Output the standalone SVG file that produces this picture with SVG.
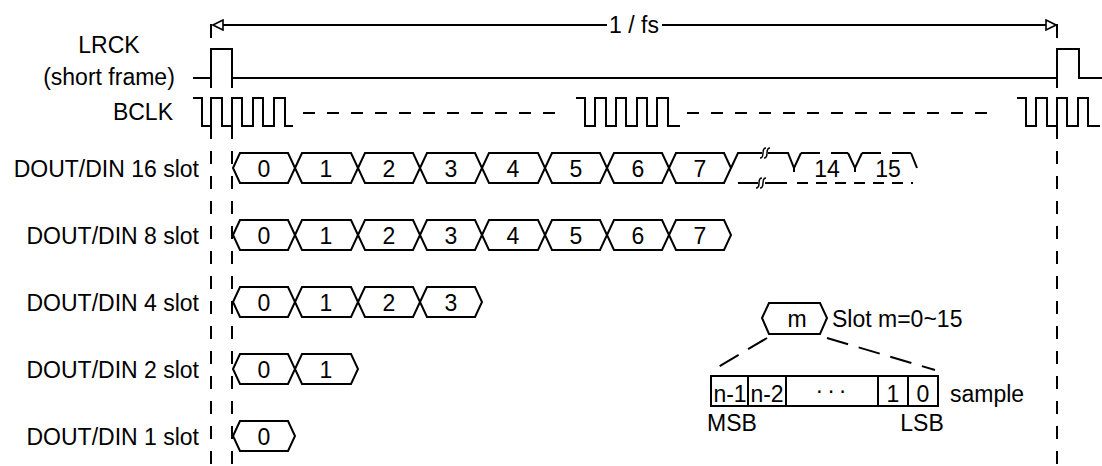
<svg xmlns="http://www.w3.org/2000/svg" width="1102" height="466" viewBox="0 0 1102 466">
<style>
text{font-family:"Liberation Sans",Arial,sans-serif;font-size:23px;fill:#000}
.m{text-anchor:middle}
.e{text-anchor:end}
.w{fill:none;stroke:#000;stroke-width:2}
.slot{fill:#fff;stroke:#000;stroke-width:2;stroke-linejoin:miter}
.vd{fill:none;stroke:#000;stroke-width:2;stroke-dasharray:13 12}
.bd{fill:none;stroke:#000;stroke-width:2;stroke-dasharray:12 12}
.brk{fill:none;stroke:#000;stroke-width:1.5}
</style>
<defs>
<marker id="oa" viewBox="0 0 12 12" refX="11" refY="6" markerWidth="12" markerHeight="12" markerUnits="userSpaceOnUse" orient="auto">
<path d="M1,1 L11,6 L1,11 z" fill="#fff" stroke="#000" stroke-width="1.6"/>
</marker>
</defs>

<g id="connectors">
<!-- 1/fs arrow -->
<line class="w" x1="607" y1="25" x2="213" y2="25" marker-end="url(#oa)"/>
<line class="w" x1="662" y1="25" x2="1056" y2="25" marker-end="url(#oa)"/>
<path class="w" d="M211,24 V38 M1057,24 V38"/>
<!-- vertical dashed guides -->
<path class="w" d="M211,78 V88 M232,78 V88 M1057,78 V88"/>
<path class="vd" d="M211,126 V466 M232,126 V466 M1057,126 V466"/>
</g>
<text class="m" x="634" y="33">1 / fs</text>

<g id="lrck">
<text class="m" x="109" y="53">LRCK</text>
<text class="m" x="109" y="85">(short frame)</text>
<path class="w" d="M193,78 H211 V49 H232 V78 H1057 V49 H1079 V78 H1102"/>
</g>

<g id="bclk">
<text class="e" x="173" y="120">BCLK</text>
<path class="w" d="M193,98 H202 V126 H211 V98 H222 V126 H232 V98 H242 V126 H253 V98 H263 V126 H274 V98 H285 V126 H293"/>
<path class="bd" d="M303,113 H557"/>
<path class="w" d="M576,98 H585 V126 H595 V98 H606 V126 H616 V98 H626 V126 H637 V98 H647 V126 H657 V98 H668 V126 H680"/>
<path class="bd" d="M687,113 H988"/>
<path class="w" d="M1017,98 H1026 V126 H1036 V98 H1047 V126 H1057 V98 H1067 V126 H1078 V98 H1088 V126 H1100"/>
</g>

<g id="row16">
<text class="e" x="199" y="177">DOUT/DIN 16 slot</text>
<g transform="translate(0,168)">
<polygon class="slot" points="233,0 240,-15 288,-15 295,0 288,15 240,15"/>
<polygon class="slot" points="295,0 302,-15 351,-15 358,0 351,15 302,15"/>
<polygon class="slot" points="358,0 365,-15 413,-15 420,0 413,15 365,15"/>
<polygon class="slot" points="420,0 427,-15 475,-15 482,0 475,15 427,15"/>
<polygon class="slot" points="482,0 489,-15 538,-15 545,0 538,15 489,15"/>
<polygon class="slot" points="545,0 552,-15 600,-15 607,0 600,15 552,15"/>
<polygon class="slot" points="607,0 614,-15 662,-15 669,0 662,15 614,15"/>
<polygon class="slot" points="669,0 676,-15 724,-15 731,0 724,15 676,15"/>
<text class="m" x="264" y="9">0</text><text class="m" x="326" y="9">1</text><text class="m" x="389" y="9">2</text><text class="m" x="451" y="9">3</text>
<text class="m" x="513" y="9">4</text><text class="m" x="576" y="9">5</text><text class="m" x="638" y="9">6</text><text class="m" x="700" y="9">7</text>
<path class="w" d="M731,0 L738,-15 H762 M768,-15 H788 L794,0 L801,-15 M794,0 V4 M738,15 H758 M765,15 H787"/>
<path class="brk" d="M760,-10 Q763,-10 763,-15 Q763,-20 766,-20 M764,-10 Q767,-10 767,-15 Q767,-20 770,-20"/>
<path class="brk" d="M756,20 Q759,20 759,15 Q759,10 762,10 M760,20 Q763,20 763,15 Q763,10 766,10"/>
<path class="w" d="M848,-15 L855,0 L862,-15 M855,0 V4 M911,-15 L917,0"/>
<path class="w" stroke-dasharray="19 11" d="M801,-15 H848 M862,-15 H911"/>
<path class="w" stroke-dasharray="11 8" d="M797,15 H913"/>
<text class="m" x="827" y="9">14</text><text class="m" x="888" y="9">15</text>
</g>
</g>

<g id="row8">
<text class="e" x="199" y="244">DOUT/DIN 8 slot</text>
<g transform="translate(0,235)">
<polygon class="slot" points="233,0 240,-15 288,-15 295,0 288,15 240,15"/>
<polygon class="slot" points="295,0 302,-15 351,-15 358,0 351,15 302,15"/>
<polygon class="slot" points="358,0 365,-15 413,-15 420,0 413,15 365,15"/>
<polygon class="slot" points="420,0 427,-15 475,-15 482,0 475,15 427,15"/>
<polygon class="slot" points="482,0 489,-15 538,-15 545,0 538,15 489,15"/>
<polygon class="slot" points="545,0 552,-15 600,-15 607,0 600,15 552,15"/>
<polygon class="slot" points="607,0 614,-15 662,-15 669,0 662,15 614,15"/>
<polygon class="slot" points="669,0 676,-15 724,-15 731,0 724,15 676,15"/>
<text class="m" x="264" y="9">0</text><text class="m" x="326" y="9">1</text><text class="m" x="389" y="9">2</text><text class="m" x="451" y="9">3</text>
<text class="m" x="513" y="9">4</text><text class="m" x="576" y="9">5</text><text class="m" x="638" y="9">6</text><text class="m" x="700" y="9">7</text>
</g>
</g>

<g id="row4">
<text class="e" x="199" y="311">DOUT/DIN 4 slot</text>
<g transform="translate(0,302)">
<polygon class="slot" points="233,0 240,-15 288,-15 295,0 288,15 240,15"/>
<polygon class="slot" points="295,0 302,-15 351,-15 358,0 351,15 302,15"/>
<polygon class="slot" points="358,0 365,-15 413,-15 420,0 413,15 365,15"/>
<polygon class="slot" points="420,0 427,-15 475,-15 482,0 475,15 427,15"/>
<text class="m" x="264" y="9">0</text><text class="m" x="326" y="9">1</text><text class="m" x="389" y="9">2</text><text class="m" x="451" y="9">3</text>
</g>
</g>

<g id="row2">
<text class="e" x="199" y="378">DOUT/DIN 2 slot</text>
<g transform="translate(0,369)">
<polygon class="slot" points="233,0 240,-15 288,-15 295,0 288,15 240,15"/>
<polygon class="slot" points="295,0 302,-15 351,-15 358,0 351,15 302,15"/>
<text class="m" x="264" y="9">0</text><text class="m" x="326" y="9">1</text>
</g>
</g>

<g id="row1">
<text class="e" x="199" y="445">DOUT/DIN 1 slot</text>
<g transform="translate(0,436)">
<polygon class="slot" points="233,0 240,-15 288,-15 295,0 288,15 240,15"/>
<text class="m" x="264" y="9">0</text>
</g>
</g>

<g id="legend">
<polygon class="slot" points="762,318 769,303 820,303 827,318 820,334 769,334"/>
<text class="m" x="797" y="327">m</text>
<text x="832" y="327">Slot m=0~15</text>
<path class="w" stroke-dasharray="22 11" d="M767,338 L713,370 M827,338 L935,370"/>
<rect class="w" x="711" y="376" width="227" height="30"/>
<path class="w" d="M748,376 V406 M786,376 V406 M878,376 V406 M908,376 V406"/>
<text class="m" x="730" y="402">n-1</text>
<text class="m" x="767" y="402">n-2</text>
<text class="m" x="833" y="398" letter-spacing="4">···</text>
<text class="m" x="893" y="402">1</text>
<text class="m" x="923" y="402">0</text>
<text x="950" y="402">sample</text>
<text class="m" x="732" y="431">MSB</text>
<text class="m" x="922" y="431">LSB</text>
</g>
</svg>
